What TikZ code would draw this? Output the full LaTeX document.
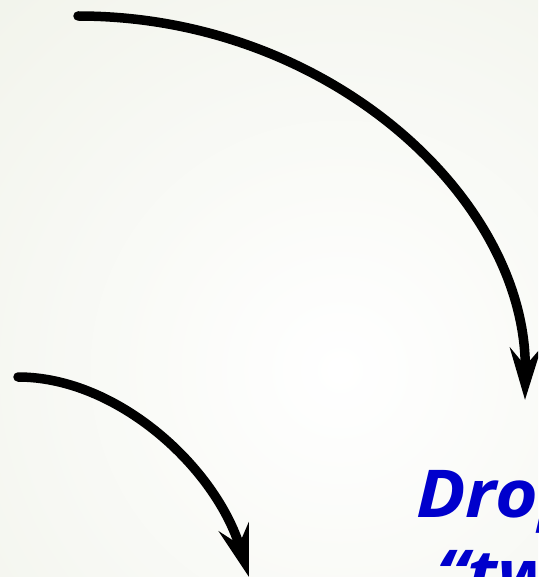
\documentclass[tikz,border=0pt]{standalone}
\usepackage{fontspec}
\usetikzlibrary{arrows.meta}
\newfontfamily\labelfont[FakeStretch=1.11]{Open Sans}
\definecolor{bgedge}{RGB}{242,244,236}
\definecolor{dropblue}{RGB}{0,0,204}
\tikzset{
  bend arrow/.style={line width=9.5pt, line cap=round,
    -{Stealth[length=52pt, width=31pt, inset=18pt]}},
  droplabel/.style={anchor=base west, inner sep=0pt, text=dropblue,
    font=\labelfont\bfseries\itshape\fontsize{66}{78}\selectfont}
}
\begin{document}
\begin{tikzpicture}[x=1pt, y=-1pt]
  \clip (0,0) rectangle (538,577);
  \shade[inner color=white, outer color=bgedge] (-160,-130) rectangle (840,870);
  \coordinate (a1s) at (78,16);
  \coordinate (a1e) at (525,400);
  \coordinate (a2s) at (18,377);
  \coordinate (a2e) at (249,577);
  \draw[bend arrow] (a1s) .. controls (330,16) and (527,200) .. (a1e);
  \draw[bend arrow] (a2s) .. controls (118,377) and (216,468) .. (a2e);
  \node[droplabel] (drop) at (416,517) {Drop};
  \node[droplabel] (two) at (436,597) {“tw};
\end{tikzpicture}
\end{document}
